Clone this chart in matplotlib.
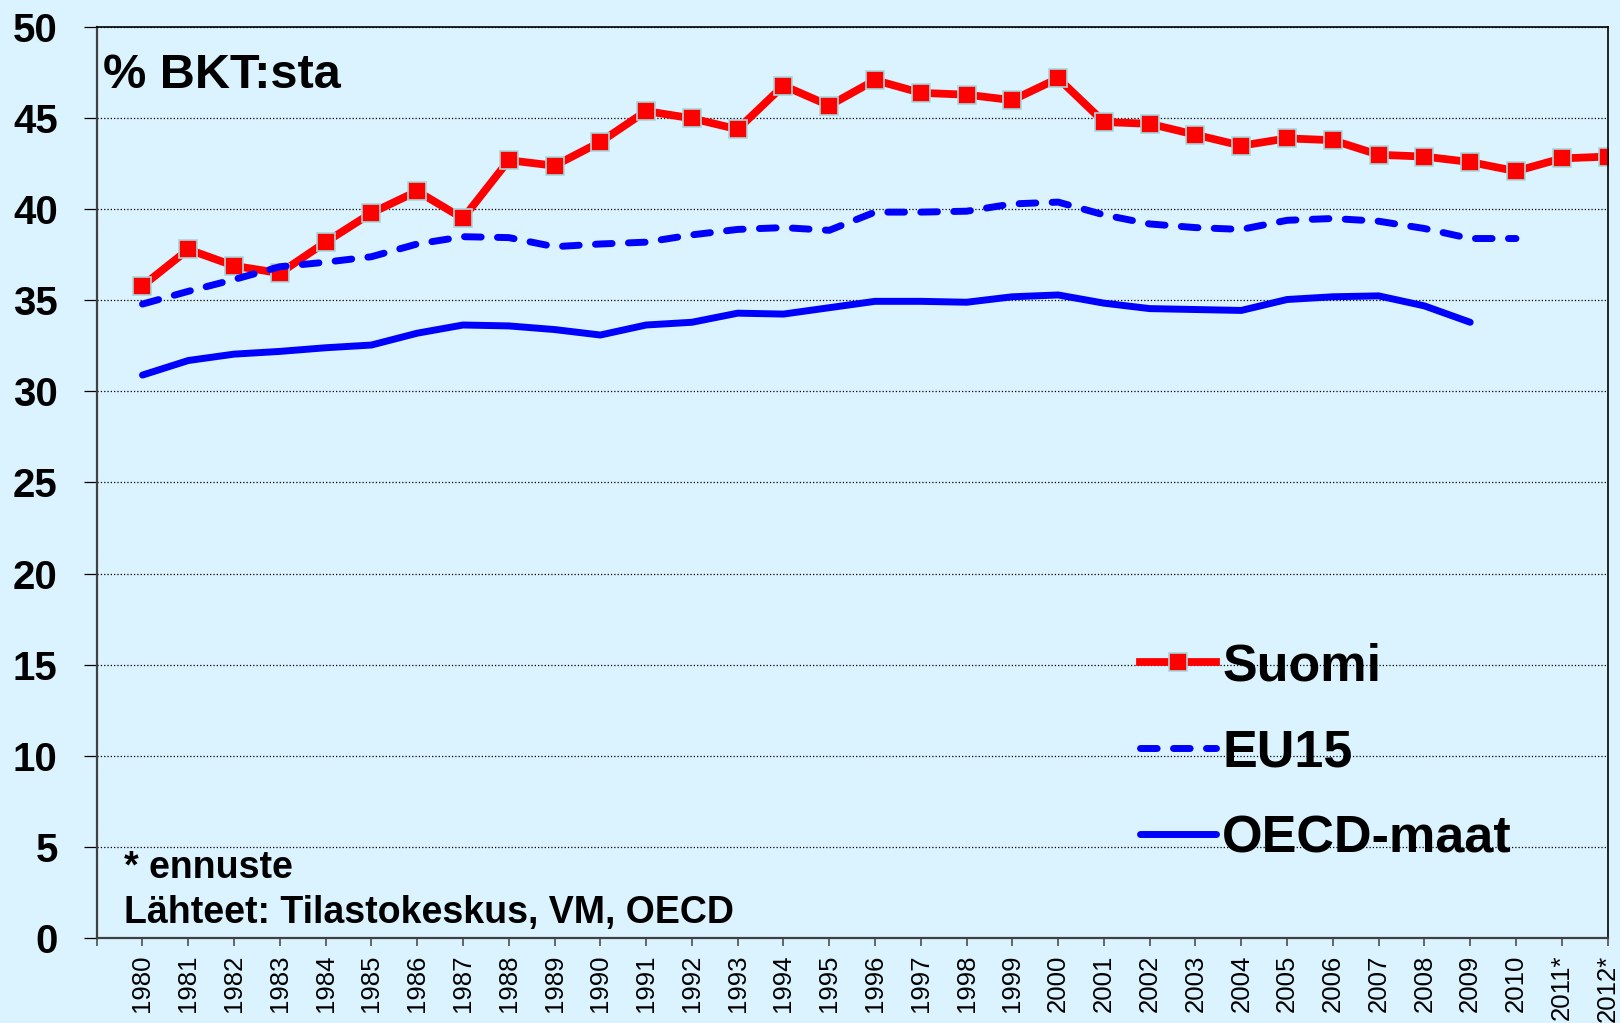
import matplotlib
matplotlib.use("Agg")
import matplotlib.pyplot as plt

plt.rcParams['font.family'] = ['Liberation Sans', 'DejaVu Sans']

years = [str(y) for y in range(1980, 2011)] + ['2011*', '2012*']

# % BKT:sta
suomi = [35.8, 37.8, 36.9, 36.5, 38.2, 39.8, 41.0, 39.5, 42.7, 42.4,
         43.7, 45.4, 45.0, 44.4, 46.8, 45.7, 47.1, 46.4, 46.3, 46.0,
         47.2, 44.8, 44.7, 44.1, 43.5, 43.9, 43.8, 43.0, 42.9, 42.6,
         42.1, 42.8, 42.9]
eu15 = [34.8, 35.5, 36.15, 36.85, 37.1, 37.4, 38.1, 38.5, 38.45, 37.95,
        38.1, 38.2, 38.6, 38.9, 39.0, 38.85, 39.85, 39.85, 39.9, 40.3,
        40.4, 39.7, 39.2, 39.0, 38.9, 39.4, 39.5, 39.35, 38.95, 38.4,
        38.4]
oecd = [30.9, 31.7, 32.05, 32.2, 32.4, 32.55, 33.2, 33.65, 33.6, 33.4,
        33.1, 33.65, 33.8, 34.3, 34.25, 34.6, 34.95, 34.95, 34.9, 35.2,
        35.3, 34.85, 34.55, 34.5, 34.45, 35.05, 35.2, 35.25, 34.7, 33.8]

bg = '#DAF3FE'

fig = plt.figure(figsize=(16.2, 10.23), dpi=100, facecolor=bg)
ax = fig.add_axes([0.0597, 0.0834, 0.9326, 0.8899])
ax.set_facecolor(bg)

ax.plot(range(len(suomi)), suomi, color='#FF0000', lw=5.6, marker='s',
        ms=13.5, mfc='#FF0000', mec='#A8D8DC', mew=1.2, label='Suomi',
        solid_joinstyle='miter')
ax.plot(range(len(eu15)), eu15, color='#0000FF', lw=5.0,
        dashes=(2.4, 2.35), dash_capstyle='round', label='EU15')
ax.plot(range(len(oecd)), oecd, color='#0000FF', lw=5.0,
        solid_capstyle='round', label='OECD-maat')

ax.set_xlim(-1, len(years) - 1)
ax.set_ylim(0, 50)
ax.set_yticks(range(0, 51, 5))
ax.set_xticks(range(-1, len(years)))
ax.set_xticklabels([''] + years, rotation=90, fontsize=18.5)
for lbl in ax.get_yticklabels():
    lbl.set_fontweight('bold')
    lbl.set_fontsize(29)

# tick sizes in points (dpi 100)
ax.tick_params(axis='x', length=6.1, width=1.1, pad=6.3, color='#404040')
ax.tick_params(axis='y', length=9.1, width=0.9, pad=19)
ax.yaxis.grid(True, ls=':', color='black', lw=0.9)
ax.set_axisbelow(True)

for s in ['left', 'bottom']:
    ax.spines[s].set_linewidth(1.6)
    ax.spines[s].set_color('#404040')
for s in ['top', 'right']:
    ax.spines[s].set_linewidth(1.2)
    ax.spines[s].set_color('black')

leg = ax.legend(loc='upper left', bbox_to_anchor=(0.7037, 0.3719),
                bbox_transform=fig.transFigure, frameon=False,
                prop={'size': 37.5, 'weight': 'bold'}, handlelength=1.46,
                handletextpad=0.12, labelspacing=0.71, borderpad=0,
                borderaxespad=0)

fig.text(0.0636, 0.9137, '% BKT:sta', fontsize=35, fontweight='bold',
         va='baseline', ha='left')
fig.text(0.0765, 0.1417, '* ennuste', fontsize=27, fontweight='bold',
         va='baseline', ha='left')
fig.text(0.0765, 0.0975, 'Lähteet: Tilastokeskus, VM, OECD', fontsize=27,
         fontweight='bold', va='baseline', ha='left')

fig.savefig('out.png', dpi=100, facecolor=bg)
